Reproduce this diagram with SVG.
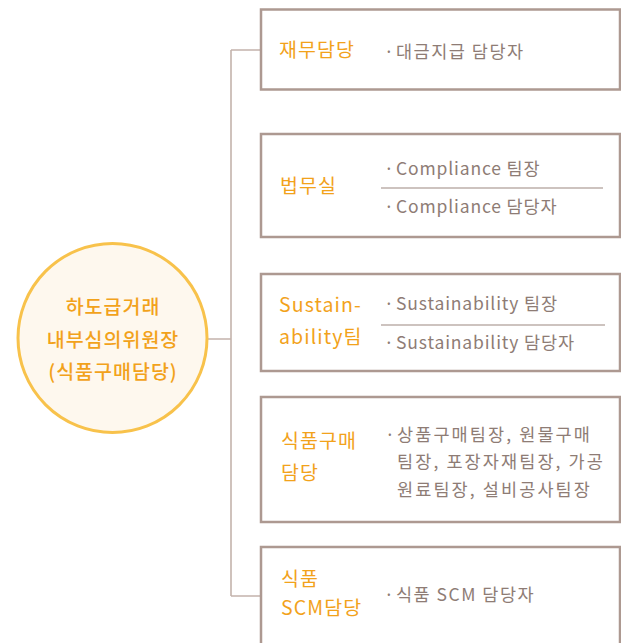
<svg xmlns="http://www.w3.org/2000/svg" width="621" height="643" viewBox="0 0 621 643">
<style>
.box{fill:#fff;stroke:#AD9991;stroke-width:2.5}
.conn{fill:none;stroke:#C4B3AC;stroke-width:1.6}
.div{stroke:#9C8780;stroke-width:1.2}
.t{font-family:"Noto Sans CJK KR","Noto Sans",sans-serif;font-size:19.5px;letter-spacing:1.1px;fill:#F2A21B}
.i{font-family:"Noto Sans CJK KR","Noto Sans",sans-serif;font-size:17.5px;letter-spacing:1.5px;fill:#8E7C75}
.l{letter-spacing:0.85px}
.k{letter-spacing:2.1px}
.c{font-family:"Noto Sans CJK KR","Noto Sans",sans-serif;font-size:19.5px;letter-spacing:1px;fill:#F2A21B;font-weight:500;text-anchor:middle}
</style>
<rect width="621" height="643" fill="#fff"/>
<g id="connectors">
<path class="conn" d="M231 50 V596 M231 50 H261 M231 596 H261 M208 339 H231"/>
</g>
<g id="root">
<circle cx="112.5" cy="338" r="94.5" fill="#FEF8EE" stroke="#F8C24B" stroke-width="3"/>
<text class="c" x="113" y="314">하도급거래</text>
<text class="c" x="113" y="347">내부심의위원장</text>
<text class="c" x="113" y="379">(식품구매담당)</text>
</g>
<g id="finance">
<rect class="box" x="261" y="9.5" width="359" height="80"/>
<text class="t" x="279" y="57">재무담당</text>
<text class="i" x="384" y="58">·<tspan x="396">대금지급 담당자</tspan></text>
</g>
<g id="legal">
<rect class="box" x="261" y="134" width="359" height="103"/>
<text class="t" x="280" y="193">법무실</text>
<text class="i l" x="384" y="175">·<tspan x="396">Compliance 팀장</tspan></text>
<line class="div" x1="381" y1="188" x2="603" y2="188"/>
<text class="i l" x="384" y="213">·<tspan x="396">Compliance 담당자</tspan></text>
</g>
<g id="sustainability">
<rect class="box" x="261" y="274" width="359" height="97"/>
<text class="t" x="279" y="312">Sustain-</text>
<text class="t" x="279" y="344">ability팀</text>
<text class="i l" x="384" y="310">·<tspan x="396">Sustainability 팀장</tspan></text>
<line class="div" x1="381" y1="325" x2="605" y2="325"/>
<text class="i l" x="384" y="349">·<tspan x="396">Sustainability 담당자</tspan></text>
</g>
<g id="purchasing">
<rect class="box" x="261" y="397" width="359" height="125"/>
<text class="t" x="281" y="448">식품구매</text>
<text class="t" x="281" y="480">담당</text>
<text class="i k" x="385" y="441">·<tspan x="397">상품구매팀장, 원물구매</tspan></text>
<text class="i k" x="397" y="468">팀장, 포장자재팀장, 가공</text>
<text class="i k" x="397" y="496">원료팀장, 설비공사팀장</text>
</g>
<g id="scm">
<rect class="box" x="261" y="547" width="359" height="110"/>
<text class="t" x="281" y="586">식품</text>
<text class="t" x="281" y="615">SCM담당</text>
<text class="i" x="384" y="601">·<tspan x="396">식품 SCM 담당자</tspan></text>
</g>
</svg>
